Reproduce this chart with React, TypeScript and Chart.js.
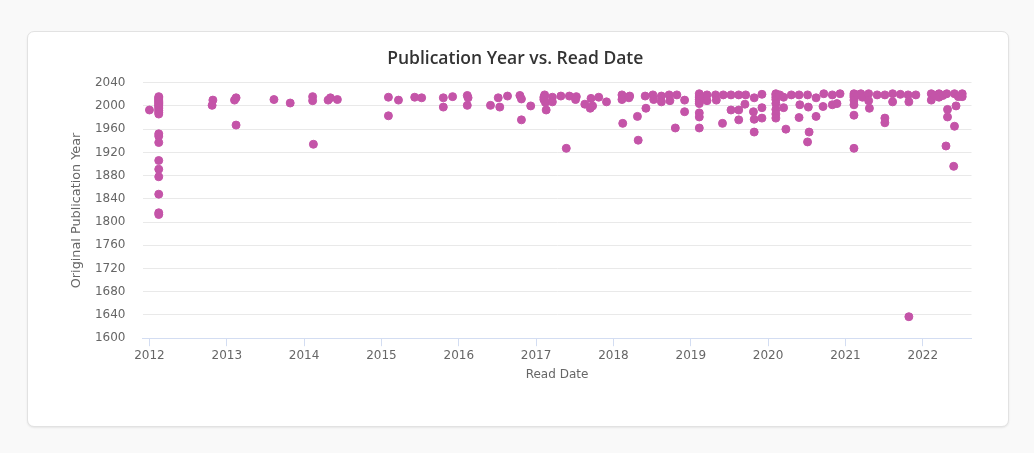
import React, { useEffect, useRef } from "react";
import { Chart, registerables } from "chart.js";

Chart.register(...registerables);

// Read date of each book (decimal year) paired with its original publication year.
const readDates: number[] = [
  // 2012
  2012.0, 2012.12, 2012.12, 2012.12, 2012.12, 2012.12, 2012.12, 2012.12, 2012.12, 2012.12,
  2012.12, 2012.12, 2012.12, 2012.12, 2012.12, 2012.12, 2012.12, 2012.12, 2012.12, 2012.12,
  2012.12, 2012.12, 2012.12, 2012.12, 2012.82, 2012.81,
  // 2013
  2013.12, 2013.1, 2013.12, 2013.61, 2013.82,
  // 2014
  2014.11, 2014.11, 2014.12, 2014.31, 2014.34, 2014.43,
  // 2015
  2015.09, 2015.09, 2015.22, 2015.43, 2015.52, 2015.8, 2015.8, 2015.92,
  // 2016
  2016.11, 2016.12, 2016.11, 2016.41, 2016.51, 2016.53, 2016.63, 2016.79, 2016.81, 2016.81, 2016.93,
  // 2017
  2017.11, 2017.1, 2017.12, 2017.13, 2017.1, 2017.21, 2017.21, 2017.32, 2017.39, 2017.43,
  2017.52, 2017.51, 2017.63, 2017.71, 2017.7, 2017.73, 2017.81, 2017.91,
  // 2018
  2018.11, 2018.11, 2018.12, 2018.21, 2018.2, 2018.31, 2018.32, 2018.41, 2018.42, 2018.51,
  2018.52, 2018.62, 2018.62, 2018.72, 2018.73, 2018.82, 2018.8, 2018.92, 2018.92,
  // 2019
  2019.11, 2019.11, 2019.11, 2019.11, 2019.11, 2019.11, 2019.11, 2019.11, 2019.11, 2019.16,
  2019.21, 2019.21, 2019.32, 2019.33, 2019.42, 2019.41, 2019.52, 2019.52, 2019.62, 2019.62,
  2019.62, 2019.71, 2019.7, 2019.82, 2019.81, 2019.82, 2019.82, 2019.92, 2019.92, 2019.92,
  // 2020
  2020.1, 2020.1, 2020.1, 2020.1, 2020.1, 2020.1, 2020.1, 2020.1, 2020.15, 2020.2,
  2020.2, 2020.23, 2020.3, 2020.4, 2020.41, 2020.4, 2020.51, 2020.52, 2020.53, 2020.51,
  2020.62, 2020.62, 2020.72, 2020.71, 2020.83, 2020.83, 2020.93, 2020.89,
  // 2021
  2021.11, 2021.11, 2021.11, 2021.11, 2021.11, 2021.11, 2021.11, 2021.16, 2021.2, 2021.22,
  2021.3, 2021.3, 2021.31, 2021.41, 2021.51, 2021.51, 2021.51, 2021.61, 2021.61, 2021.71,
  2021.81, 2021.82, 2021.82, 2021.91,
  // 2022
  2022.11, 2022.11, 2022.16, 2022.21, 2022.21, 2022.26, 2022.31, 2022.32, 2022.32, 2022.3,
  2022.41, 2022.43, 2022.41, 2022.4, 2022.46, 2022.51, 2022.51,
];

const publicationYears: number[] = [
  // 2012
  1993, 2016, 2014, 2012, 2010, 2008, 2006, 2004, 2002, 2000,
  1998, 1995, 1992, 1989, 1986, 1952, 1948, 1937, 1906, 1891,
  1878, 1848, 1816, 1813, 2010, 2001,
  // 2013
  2014, 2010, 1967, 2011, 2005,
  // 2014
  2016, 2009, 1934, 2010, 2014, 2011,
  // 2015
  2015, 1983, 2010, 2015, 2014, 2014, 1998, 2016,
  // 2016
  2018, 2014, 2001, 2001, 2014, 1998, 2017, 2018, 2012, 1976, 2000,
  // 2017
  2019, 2011, 2006, 1993, 2015, 2015, 2007, 2017, 1927, 2017,
  2016, 2011, 2003, 2013, 1996, 2000, 2015, 2007,
  // 2018
  2019, 2011, 1970, 2017, 2014, 1982, 1941, 2017, 1996, 2019,
  2011, 2017, 2007, 2019, 2009, 2019, 1962, 2010, 1990,
  // 2019
  2021, 2017, 2014, 2011, 2007, 2004, 1988, 1981, 1962, 2015,
  2019, 2009, 2019, 2010, 2019, 1970, 2019, 1993, 2019, 1993,
  1976, 2019, 2003, 2014, 1990, 1977, 1955, 2020, 1997, 1979,
  // 2020
  2021, 2019, 2015, 2011, 2004, 1994, 1986, 1979, 2019, 2015,
  1997, 1960, 2019, 2019, 2002, 1980, 2019, 1998, 1955, 1938,
  2014, 1982, 2021, 1999, 2019, 2002, 2021, 2004,
  // 2021
  2021, 2018, 2015, 2010, 2002, 1984, 1927, 2019, 2021, 2015,
  2021, 2009, 1996, 2019, 2019, 1979, 1971, 2021, 2007, 2020,
  2019, 2007, 1637, 2019,
  // 2022
  2021, 2010, 2018, 2021, 2015, 2018, 2021, 1994, 1981, 1931,
  2021, 2000, 1965, 1896, 2016, 2021, 2016,
];

const yearTicks: number[] = [2012, 2013, 2014, 2015, 2016, 2017, 2018, 2019, 2020, 2021, 2022];

const chartTitle = "Publication Year vs. Read Date";
const xTitle = "Read Date";
const yTitle = "Original Publication Year";

const POINT_COLOR = "#c454a8";
const TICK_FONT = { family: "'DejaVu Sans', sans-serif", size: 12 };
const Y_TITLE_FONT = { family: "'DejaVu Sans', sans-serif", size: 12.8 };

export default function App() {
  const canvasRef = useRef<HTMLCanvasElement | null>(null);

  useEffect(() => {
    const canvas = canvasRef.current;
    if (!canvas) return;

    const points = readDates.map((x, i) => ({ x, y: publicationYears[i] }));

    const chart = new Chart(canvas, {
      type: "scatter",
      data: {
        datasets: [
          {
            label: "Books",
            data: points,
            backgroundColor: POINT_COLOR,
            borderColor: POINT_COLOR,
            borderWidth: 1,
            pointRadius: 4,
          },
        ],
      },
      options: {
        animation: false,
        responsive: false,
        layout: { padding: { left: 31, right: 36.5, top: 0, bottom: 40 } },
        plugins: {
          legend: { display: false },
          tooltip: { enabled: false },
          title: {
            display: true,
            text: chartTitle,
            color: "#333333",
            font: { family: "'Open Sans', sans-serif", size: 17.5, weight: "600" },
            padding: { top: 16.5, bottom: 13.2 },
          },
        },
        scales: {
          x: {
            type: "linear",
            min: 2011.91,
            max: 2022.63,
            afterBuildTicks: (scale: any) => {
              scale.ticks = yearTicks.map((value) => ({ value }));
            },
            afterFit: (scale: any) => {
              scale.height = 47.8;
            },
            grid: {
              drawOnChartArea: false,
              drawTicks: true,
              tickLength: 8,
              color: "#d3ddf2",
            },
            border: { display: true, color: "#d3ddf2" },
            ticks: {
              color: "#666666",
              font: TICK_FONT,
              padding: 2,
              maxRotation: 0,
              callback: (value: any) => String(value),
            },
            title: {
              display: true,
              text: xTitle,
              color: "#666666",
              font: TICK_FONT,
              padding: { top: 0, bottom: 3.8 },
            },
          },
          y: {
            type: "linear",
            min: 1600,
            max: 2040,
            afterFit: (scale: any) => {
              scale.width = 83.5;
            },
            grid: { color: "#e9e9e9", drawTicks: false },
            border: { display: false },
            ticks: {
              stepSize: 40,
              color: "#666666",
              font: TICK_FONT,
              padding: 17,
              callback: (value: any) => String(value),
            },
            title: {
              display: true,
              text: yTitle,
              color: "#666666",
              font: Y_TITLE_FONT,
              padding: { top: 10, bottom: 0 },
            },
          },
        },
      },
    });

    return () => chart.destroy();
  }, []);

  return (
    <div
      style={{
        position: "fixed",
        left: 0,
        top: 0,
        width: 1034,
        height: 453,
        background: "#f9f9f9",
      }}
    >
      <div
        style={{
          position: "absolute",
          left: 27,
          top: 31,
          width: 982,
          height: 396,
          boxSizing: "border-box",
          background: "#ffffff",
          border: "1px solid #e2e2e2",
          borderRadius: 7,
          boxShadow: "0 1px 2px rgba(0,0,0,0.08)",
        }}
      >
        <canvas
          ref={canvasRef}
          width={980}
          height={394}
          style={{ position: "absolute", left: 0, top: 0, width: 980, height: 394 }}
        />
      </div>
    </div>
  );
}
